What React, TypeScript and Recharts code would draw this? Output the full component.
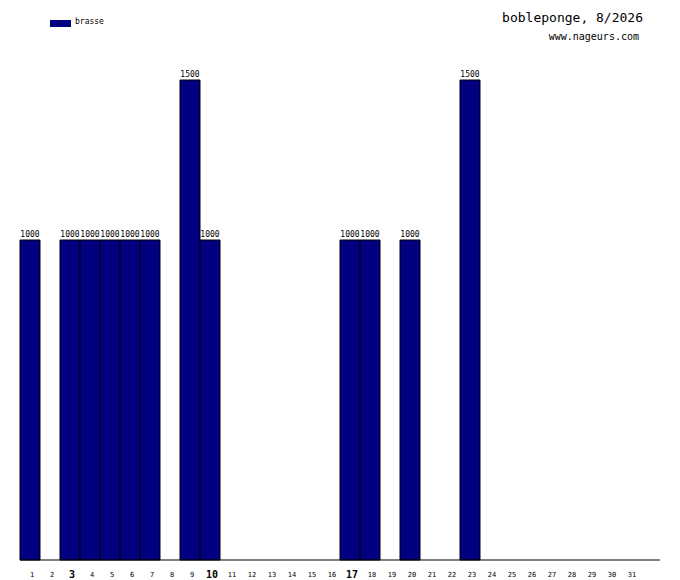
import React from 'react';
import { BarChart, Bar, XAxis, YAxis, LabelList } from 'recharts';

const days: string[] = [
  '1','2','3','4','5','6','7','8','9','10','11','12','13','14','15','16',
  '17','18','19','20','21','22','23','24','25','26','27','28','29','30','31','',
];
const brasse: (number | null)[] = [
  1000, null, 1000, 1000, 1000, 1000, 1000, null, 1500, 1000, null, null, null, null, null, null,
  1000, 1000, null, 1000, null, null, 1500, null, null, null, null, null, null, null, null, null,
];
const boldDays: string[] = ['3', '10', '17'];
const title = 'bobleponge, 8/2026';
const subtitle = 'www.nageurs.com';
const seriesName = 'brasse';

const data = days.map((d, i) => ({ day: d, v: brasse[i] }));

const MONO = '"DejaVu Sans Mono", "Liberation Mono", monospace';

const DayTick = (props: any) => {
  const { x, y, payload } = props;
  const label = payload.value as string;
  if (!label) return null;
  const bold = boldDays.includes(label);
  return (
    <text
      x={x + 2}
      y={bold ? y + 10 : y + 9}
      textAnchor="middle"
      fontFamily={MONO}
      fontSize={bold ? 10 : 7}
      fontWeight={bold ? 'bold' : 'normal'}
      fill="#000"
    >
      {label}
    </text>
  );
};

const BarLabel = (props: any) => {
  const { x, y, width, value } = props;
  if (value == null) return null;
  return (
    <text
      x={x + width / 2}
      y={y - 3}
      textAnchor="middle"
      fontFamily={MONO}
      fontSize={8}
      fill="#000"
    >
      {value}
    </text>
  );
};

export default function App() {
  return (
    <div style={{ position: 'absolute', left: 0, top: 0, width: 680, height: 580, background: '#fff' }}>
      <BarChart
        width={680}
        height={580}
        data={data}
        margin={{ top: 20, right: 20, left: 20, bottom: 0 }}
        barCategoryGap={0}
        barGap={0}
      >
        <XAxis
          dataKey="day"
          interval={0}
          height={20}
          tickLine={false}
          axisLine={{ stroke: '#000' }}
          tick={<DayTick />}
        />
        <YAxis
          width={0}
          domain={[0, 1687.5]}
          tick={false}
          tickLine={false}
          axisLine={{ stroke: '#000' }}
        />
        <Bar dataKey="v" fill="#000080" stroke="#000" strokeWidth={1} isAnimationActive={false}>
          <LabelList dataKey="v" content={<BarLabel />} />
        </Bar>
      </BarChart>
      <div style={{ position: 'absolute', left: 50, top: 20, width: 21, height: 7, background: '#000080' }} />
      <div
        style={{
          position: 'absolute', left: 75, top: 17, fontFamily: MONO, fontSize: 8,
          lineHeight: '10px', color: '#000', whiteSpace: 'nowrap',
        }}
      >
        {seriesName}
      </div>
      <div
        style={{
          position: 'absolute', right: 37, top: 10, fontFamily: MONO, fontSize: 13,
          lineHeight: '16px', color: '#000', whiteSpace: 'nowrap',
        }}
      >
        {title}
      </div>
      <div
        style={{
          position: 'absolute', right: 41, top: 31, fontFamily: MONO, fontSize: 10,
          lineHeight: '12px', color: '#000', whiteSpace: 'nowrap',
        }}
      >
        {subtitle}
      </div>
    </div>
  );
}
